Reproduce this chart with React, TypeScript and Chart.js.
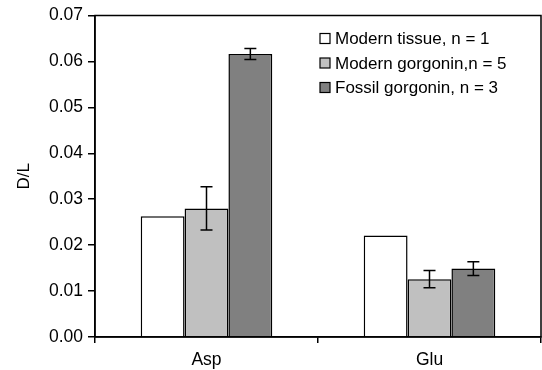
import React, { useEffect, useRef } from "react";
import { Chart, registerables } from "chart.js";

Chart.register(...registerables);

const categories = ["Asp", "Glu"];
const seriesLabels = ["Modern tissue, n = 1", "Modern gorgonin,n = 5", "Fossil gorgonin, n = 3"];
const modernTissue = [0.0263, 0.0221];
const modernGorgonin = [0.028, 0.0126];
const fossilGorgonin = [0.0616, 0.0149];
const modernTissueErr: (number | null)[] = [null, null];
const modernGorgoninErr = [0.0047, 0.0019];
const fossilGorgoninErr = [0.0012, 0.0015];
const colors = ["#ffffff", "#c0c0c0", "#808080"];

const FONT = "'Liberation Sans', Arial, sans-serif";

export default function App() {
  const ref = useRef<HTMLCanvasElement>(null);
  useEffect(() => {
    document.body.style.margin = "0";
    const errs = [modernTissueErr, modernGorgoninErr, fossilGorgoninErr];
    const extras = {
      id: "extras",
      afterDatasetsDraw(chart: any) {
        const ctx = chart.ctx;
        const ys = chart.scales.y;
        const ca = chart.chartArea;
        ctx.save();
        ctx.strokeStyle = "#000";
        ctx.lineWidth = 1.5;
        chart.data.datasets.forEach((ds: any, i: number) => {
          const meta = chart.getDatasetMeta(i);
          meta.data.forEach((bar: any, j: number) => {
            const e = errs[i][j];
            if (e == null) return;
            const v = ds.data[j];
            const top = ys.getPixelForValue(v + e);
            const bot = ys.getPixelForValue(v - e);
            const x = bar.x;
            ctx.beginPath();
            ctx.moveTo(x, top);
            ctx.lineTo(x, bot);
            ctx.moveTo(x - 6, top);
            ctx.lineTo(x + 6, top);
            ctx.moveTo(x - 6, bot);
            ctx.lineTo(x + 6, bot);
            ctx.stroke();
          });
        });
        // frame
        ctx.lineWidth = 1.5;
        ctx.strokeRect(ca.left, ca.top, ca.right - ca.left, ca.bottom - ca.top);
        // legend
        ctx.font = "17px " + FONT;
        ctx.textBaseline = "middle";
        ctx.fillStyle = "#000";
        const lx = ca.left + 225;
        const ly0 = ca.top + 23;
        chart.data.datasets.forEach((ds: any, i: number) => {
          const y = ly0 + i * 24.5;
          ctx.fillStyle = colors[i];
          ctx.fillRect(lx, y - 5, 10, 10);
          ctx.lineWidth = 1.2;
          ctx.strokeRect(lx, y - 5, 10, 10);
          ctx.fillStyle = "#000";
          ctx.fillText(ds.label, lx + 15, y + 1);
        });
        ctx.restore();
      },
    };
    const chart = new Chart(ref.current!, {
      type: "bar",
      data: {
        labels: categories,
        datasets: [modernTissue, modernGorgonin, fossilGorgonin].map((d, i) => ({
          label: seriesLabels[i],
          data: d,
          backgroundColor: colors[i],
          borderColor: "#000",
          borderWidth: 1.5,
          categoryPercentage: 0.59,
          barPercentage: 1,
        })),
      },
      options: {
        animation: false,
        responsive: false,
        layout: { padding: { top: 15, right: 1, left: 14, bottom: 0 } },
        plugins: { legend: { display: false }, tooltip: { enabled: false } },
        scales: {
          x: {
            grid: { drawOnChartArea: false, drawTicks: true, tickLength: 6, offset: true, color: "#000", lineWidth: 1.5 },
            border: { display: true, color: "#000", width: 1.5 },
            ticks: { color: "#000", font: { family: FONT, size: 17.5 }, padding: 7 },
            afterFit: (s: any) => { s.height = 33; },
          },
          y: {
            min: 0,
            max: 0.07,
            grid: { drawOnChartArea: false, drawTicks: true, tickLength: 7, color: "#000", lineWidth: 1.5 },
            border: { display: true, color: "#000", width: 1.5 },
            ticks: {
              stepSize: 0.01,
              color: "#000",
              font: { family: FONT, size: 17.5 },
              padding: 5,
              callback: (v: any) => Number(v).toFixed(2),
            },
            title: { display: true, text: "D/L", color: "#000", font: { family: FONT, size: 17 }, padding: { top: 0, bottom: 0 } },
            afterFit: (s: any) => { s.width = 81; },
          },
        },
      },
      plugins: [extras],
    });
    return () => chart.destroy();
  }, []);
  return (
    <div style={{ position: "absolute", left: 0, top: 0, width: 542, height: 370 }}>
      <canvas ref={ref} width={542} height={370} />
    </div>
  );
}
